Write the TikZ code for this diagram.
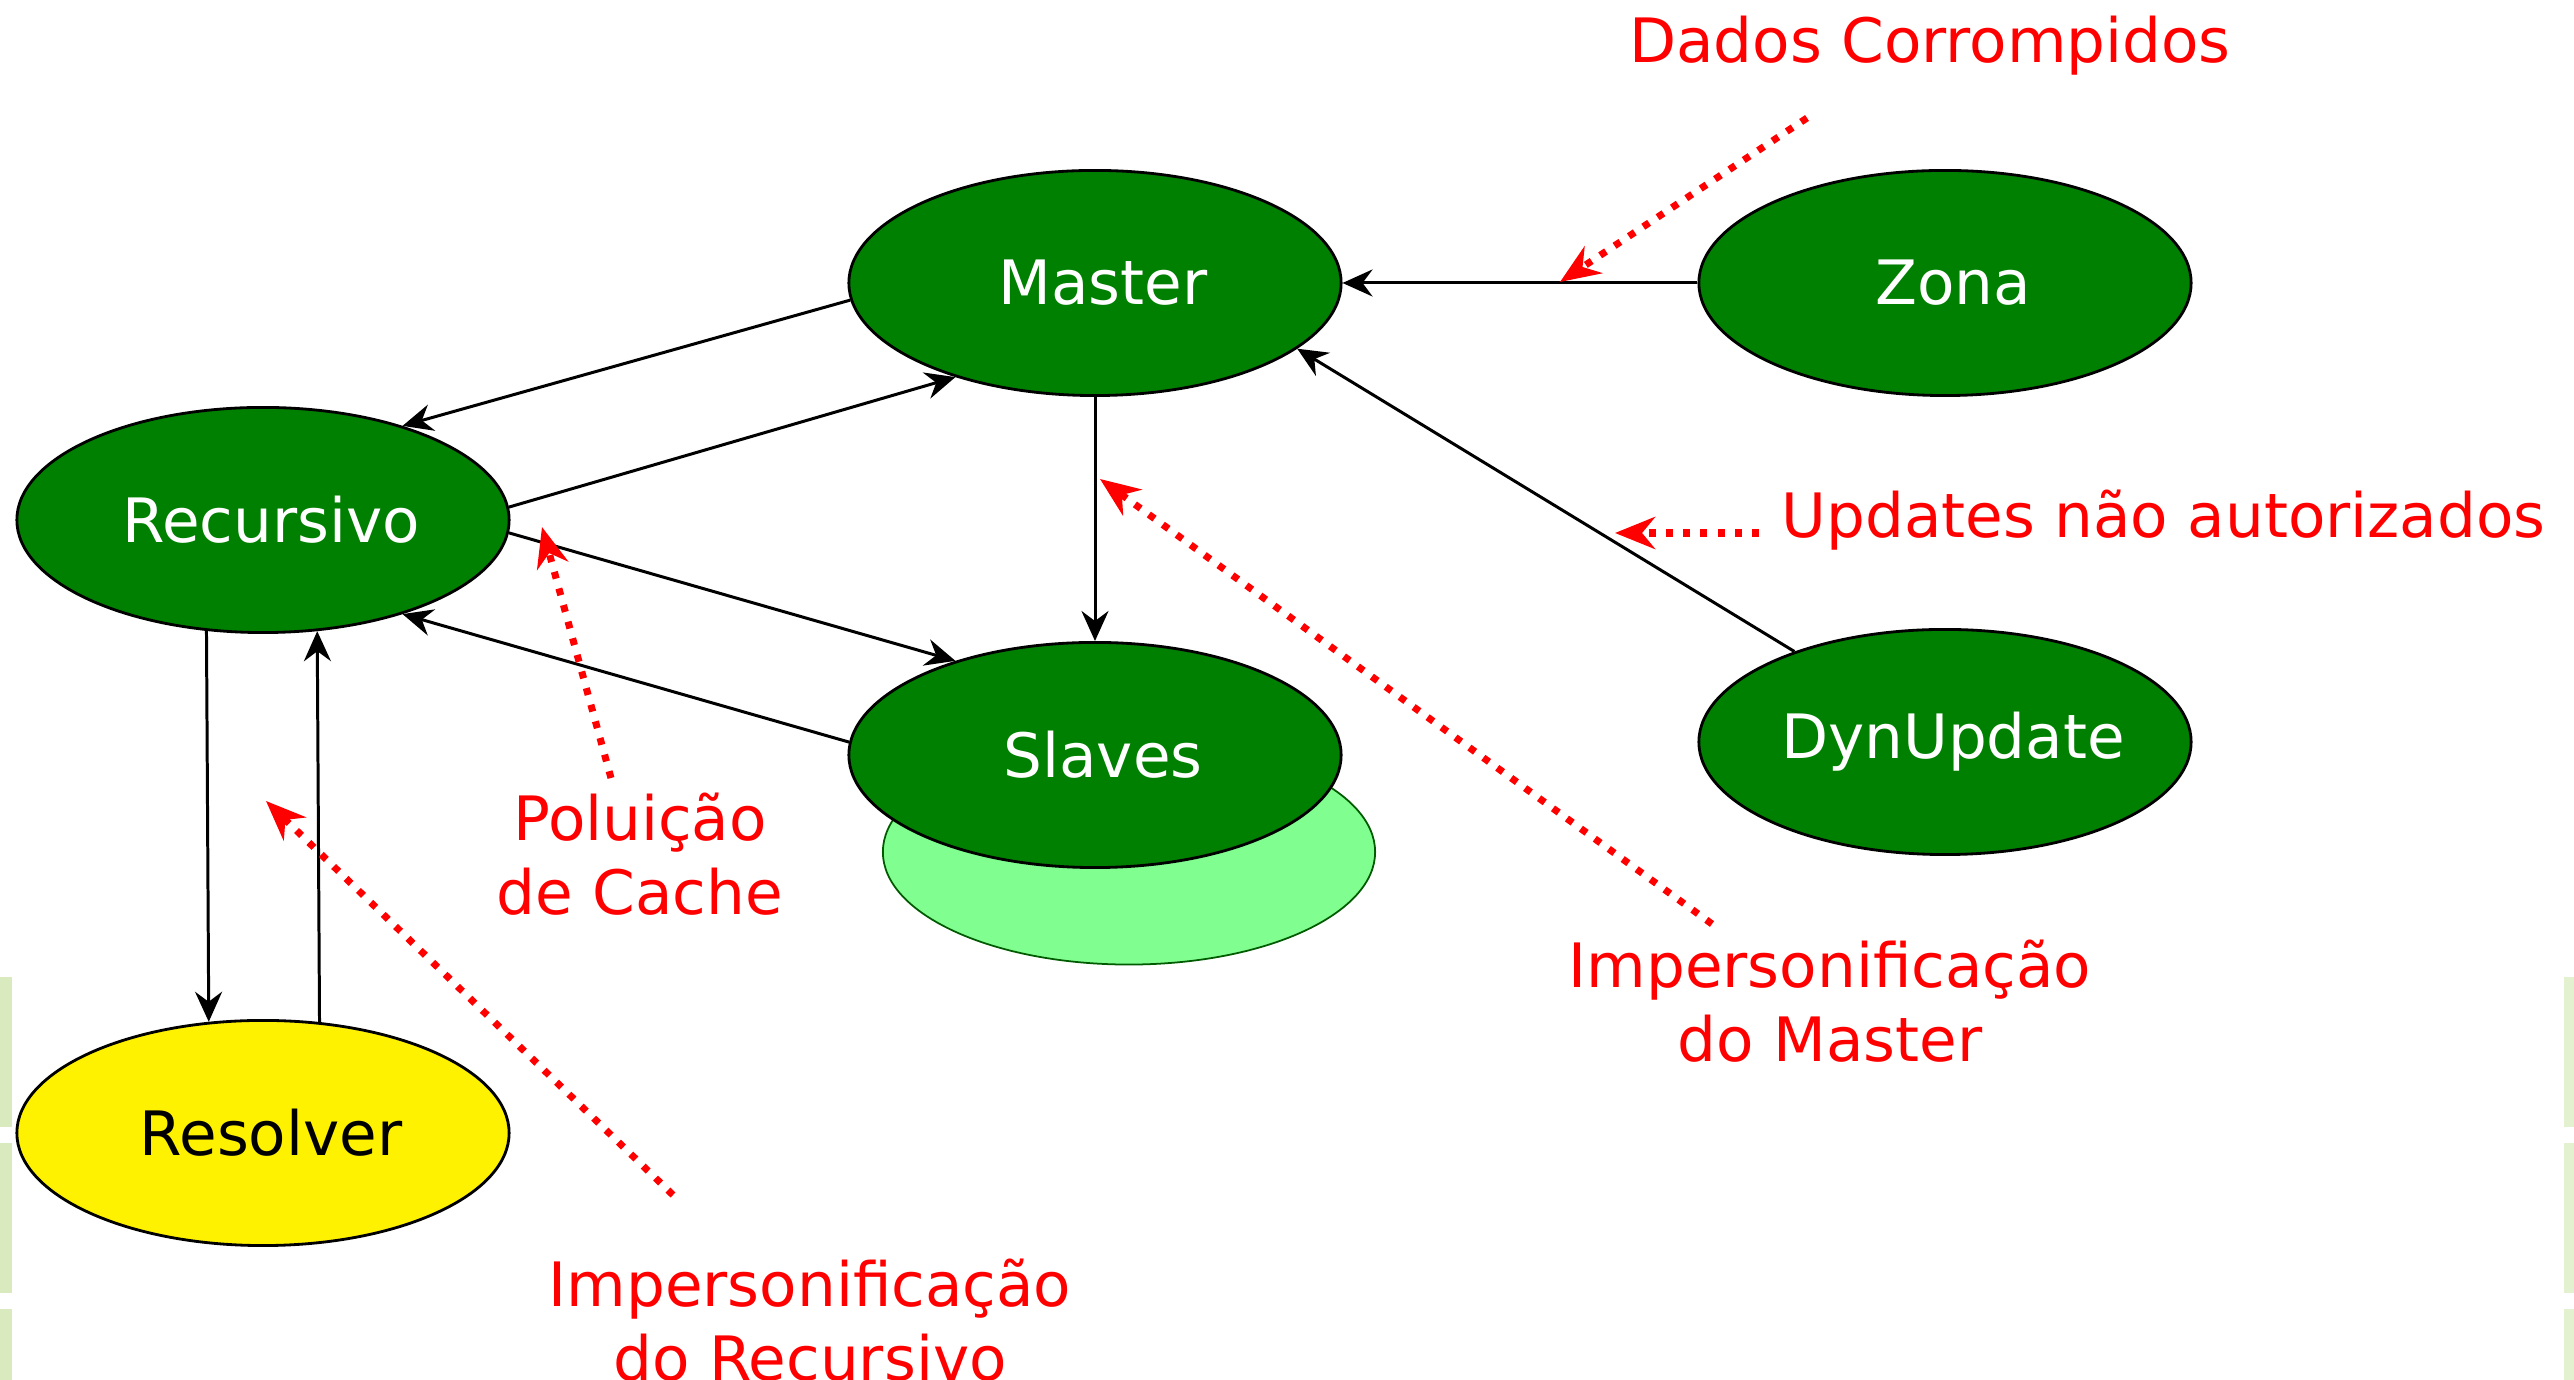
\documentclass[tikz,border=0pt]{standalone}
\usepackage{fontspec}
\setmainfont{DejaVu Sans}
\usetikzlibrary{arrows.meta,shapes.geometric}
\definecolor{nodegreen}{RGB}{0,128,0}
\definecolor{slavelight}{RGB}{128,255,144}
\definecolor{barleft}{RGB}{217,234,190}
\definecolor{barright}{RGB}{227,241,208}

\begin{document}
\begin{tikzpicture}[x=0.01cm, y=-0.01cm,
            main/.style = {draw, ellipse, line width=0.8pt, fill=nodegreen, text=white, minimum width=4.92cm, minimum height=2.25cm, inner sep=0pt, font=\fontsize{17.4}{21}\selectfont, execute at begin node={\hspace*{0.8mm}}, execute at end node={\hspace*{-0.8mm}}},
            note/.style = {text=red, align=center, inner sep=0pt, font=\fontsize{17.4}{21}\selectfont},
            flow/.style = {-{Stealth[length=3mm, width=2.7mm, inset=1mm]}, line width=0.85pt},
            hint/.style = {-{Stealth[length=4mm, width=3.2mm, inset=1.3mm]}, red, line width=2pt, dash pattern=on 2pt off 2.9pt}]
            \useasboundingbox[fill=white] (0,0) rectangle (2574,1380);

            % slide edges
            \fill[barleft] (0,977) rectangle (12,1127);
            \fill[barleft] (0,1143) rectangle (12,1293);
            \fill[barleft] (0,1309) rectangle (12,1380);
            \fill[barright] (2564,977) rectangle (2574,1127);
            \fill[barright] (2564,1143) rectangle (2574,1293);
            \fill[barright] (2564,1309) rectangle (2574,1380);

            \node[main] (Master) at (1095,283) {Master};
            \node[main] (Zona) at (1945,283) {Zona};
            \node[main] (Recursivo) at (263,520) {Recursivo};
            \node[main, draw=nodegreen!70!black, line width=0.5pt, fill=slavelight] (SlavesBack) at (1129,852) {};
            \node[main] (Slaves) at (1095,755) {Slaves};
            \node[main] (DynUpdate) at (1945,742) {DynUpdate};
            \node[main, fill=yellow, text=black] (Resolver) at (263,1133) {Resolver};

            \path[flow] (Zona) edge (Master);
            \path[flow] (Master) edge (Slaves);
            \path[flow] (Master.184) edge (Recursivo.34);
            \path[flow] (Recursivo.3) edge (Master.214);
            \path[flow] (Recursivo.357) edge (Slaves.146);
            \path[flow] (Slaves.177) edge (Recursivo.326);
            \path[flow] (DynUpdate.149) edge (Master.342);
            \path[flow] (Recursivo.243.5) edge (Resolver.116.5);
            \path[flow] (Resolver.63.5) edge (Recursivo.296.5);

            \node[note] (Dados) at (1930,46) {Dados Corrompidos};
            \node[note, anchor=west] (Updates) at (1781,520) {Updates não autorizados};
            \node[note] (Cache) at (640,854) {Poluição\\de Cache};
            \node[note] (ImpMaster) at (1830,1001) {Impersonificação\\do Master};
            \node[note] (ImpRecursivo) at (810,1320) {Impersonificação\\do Recursivo};

            \coordinate (DadosFrom) at (1807,118);
            \coordinate (DadosTo) at (1560,282);
            \coordinate (UpdatesFrom) at (1759,533);
            \coordinate (UpdatesTo) at (1615,533);
            \coordinate (CacheFrom) at (611,778);
            \coordinate (CacheTo) at (542,527);
            \coordinate (ImpMasterFrom) at (1712,924);
            \coordinate (ImpMasterTo) at (1100,479);
            \coordinate (ImpRecursivoFrom) at (673,1195);
            \coordinate (ImpRecursivoTo) at (266,801);

            \path[hint] (DadosFrom) edge (DadosTo);
            \path[hint] (UpdatesFrom) edge (UpdatesTo);
            \path[hint] (CacheFrom) edge (CacheTo);
            \path[hint] (ImpMasterFrom) edge (ImpMasterTo);
            \path[hint] (ImpRecursivoFrom) edge (ImpRecursivoTo);
        \end{tikzpicture}
\end{document}
